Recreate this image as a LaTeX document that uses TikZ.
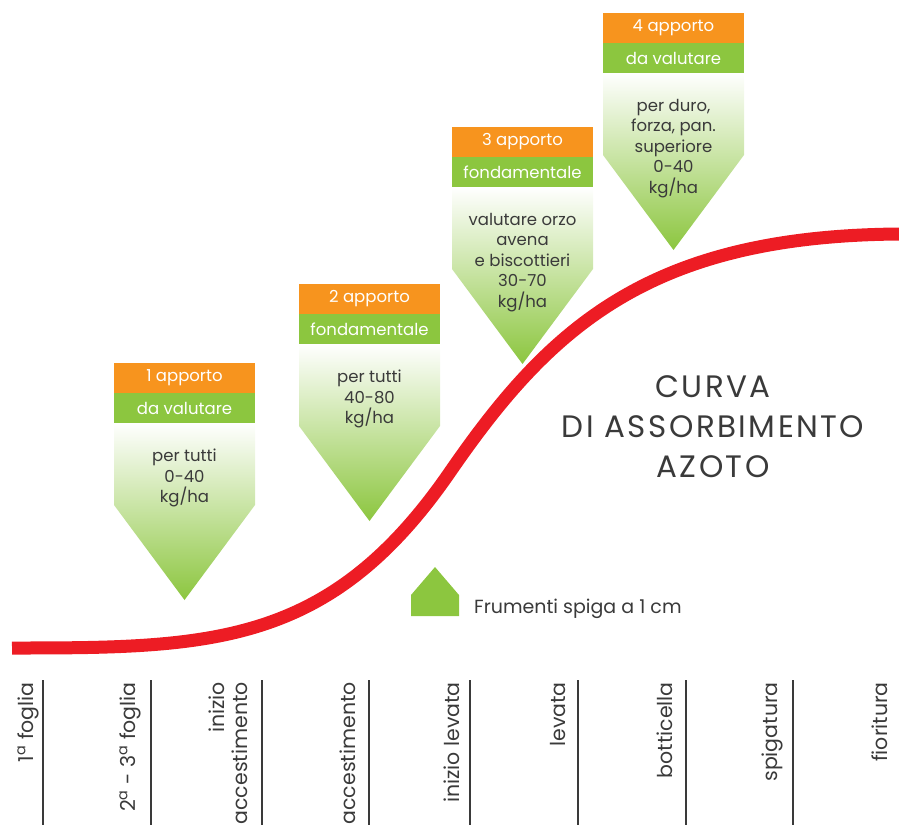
\documentclass[tikz,border=0pt]{standalone}
\usepackage{fontspec}
\setmainfont{Poppins}
\definecolor{arancio}{HTML}{F7941E}
\definecolor{verde}{HTML}{8CC63F}
\definecolor{rosso}{HTML}{ED1C24}
\definecolor{testo}{HTML}{3A3A3A}
\tikzset{
  testata/.style={font=\fontsize{16.5}{16.5}\selectfont, text=white, inner sep=0pt},
  corpo/.style={font=\fontsize{16.5}{20.5}\selectfont, text=testo, align=center, inner sep=0pt, anchor=north},
  fase/.style={font=\fontsize{20.5}{23}\selectfont, text=testo, rotate=90, inner sep=0pt},
  titolo/.style={font=\fontsize{31}{40}\selectfont\addfontfeatures{LetterSpace=8}, text=testo, align=center, inner sep=0pt},
}
\begin{document}
\begin{tikzpicture}[x=1pt,y=-1pt]
\useasboundingbox (0,0) rectangle (899,825);
% curva di assorbimento
\draw[rosso, line width=13pt] (12,648) .. controls (212,648) and (330,646) .. (450,472)
  .. controls (550,327) and (649,236) .. (899,234);
% apporti
\foreach \n/\xa/\ya/\num/\tipo/\dose in {
  1/114/363/{1 apporto}/{da valutare}/{per tutti\\0-40\\kg/ha},
  2/299/284/{2 apporto}/{fondamentale}/{per tutti\\40-80\\kg/ha},
  3/452/127/{3 apporto}/{fondamentale}/{valutare orzo\\avena\\e biscottieri\\30-70\\kg/ha},
  4/603/13/{4 apporto}/{da valutare}/{per duro,\\forza, pan.\\superiore\\0-40\\kg/ha}}{
  \shade[top color=white, bottom color=verde] (\xa,\ya+60) -- ++(141,0) -- ++(0,82) -- ++(-70.5,95) -- ++(-70.5,-95) -- cycle;
  \fill[arancio] (\xa,\ya) rectangle ++(141,30);
  \fill[verde] (\xa,\ya+30) rectangle ++(141,30);
  \node[testata] (num\n) at (\xa+70.5,\ya+15) {\num};
  \node[testata] (tipo\n) at (\xa+70.5,\ya+45) {\tipo};
  \node[corpo] (dose\n) at (\xa+70.5,\ya+86) {\dose};
}
% titolo
\node[titolo] (titolo) at (713,427) {CURVA\\DI ASSORBIMENTO\\AZOTO};
% legenda
\fill[verde] (411,616) -- (411,595) -- (435,567) -- (459,595) -- (459,616) -- cycle;
\node[font=\fontsize{19}{19}\selectfont, text=testo, anchor=west, inner sep=0pt] (legenda) at (474,609) {Frumenti spiga a 1 cm};
% fasi
\foreach \x in {43,151,262,369,470,578,686,793}
  \draw[testo, line width=1.8pt] (\x,680) -- (\x,825);
\node[fase, anchor=base east] (f1) at (33,682) {1\textsuperscript{a} foglia};
\node[fase, anchor=base east] (f2) at (135,682) {2\textsuperscript{a} - 3\textsuperscript{a} foglia};
\node[fase, anchor=south east, align=right] (f3) at (248,682) {inizio\\accestimento};
\node[fase, anchor=base east] (f4) at (355,682) {accestimento};
\node[fase, anchor=base east] (f5) at (459,682) {inizio levata};
\node[fase, anchor=base east] (f6) at (565,682) {levata};
\node[fase, anchor=base east] (f7) at (672,682) {botticella};
\node[fase, anchor=base east] (f8) at (777,682) {spigatura};
\node[fase, anchor=base east] (f9) at (887,682) {fioritura};
\end{tikzpicture}
\end{document}
